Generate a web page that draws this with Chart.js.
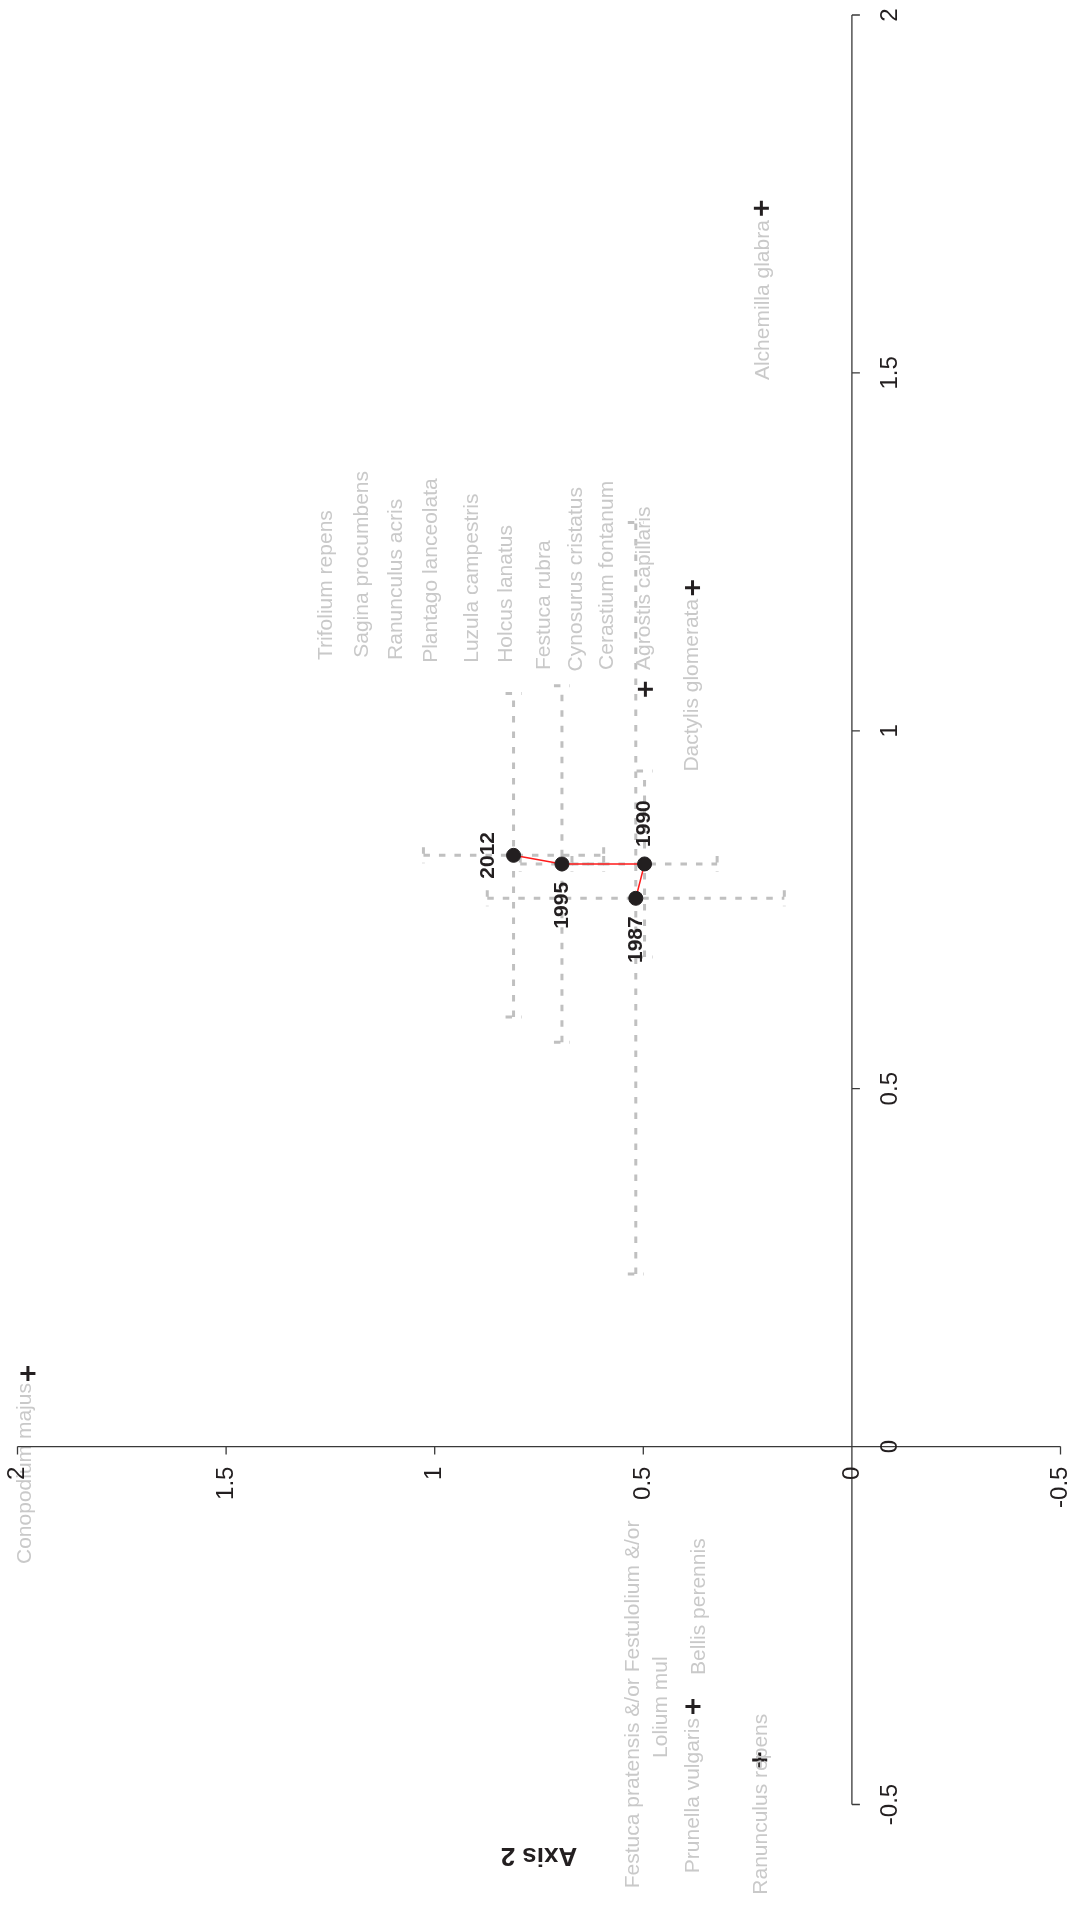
<!DOCTYPE html>
<html>
<head>
<meta charset="utf-8">
<title>Ordination: Axis 1 / Axis 2</title>
<script src="https://cdn.jsdelivr.net/npm/chart.js@4.4.1/dist/chart.umd.min.js"></script>
<style>
  html, body { margin: 0; padding: 0; background: #fff; }
  #wrap { width: 1072px; height: 1910px; }
</style>
</head>
<body>
<div id="wrap"><canvas id="ordChart" width="1072" height="1910"></canvas></div>
<script>
// Survey centroids (Axis 2 runs right-to-left, Axis 1 bottom-to-top)
const years = ['1987', '1990', '1995', '2012'];
const yearAxis2 = [0.518, 0.497, 0.695, 0.811];
const yearAxis1 = [0.766, 0.814, 0.814, 0.826];
const yearErr2 = [0.356, 0.174, 0.100, 0.216];
const yearErr1 = [0.525, 0.130, 0.249, 0.226];

// species that got a "+" marker
const markedSpecies = ['Alchemilla glabra', 'Dactylis glomerata', 'Agrostis capillaris',
    'Conopodium majus', 'Prunella vulgaris', 'Ranunculus repens'];
const markAxis2 = [0.217, 0.382, 0.495, 1.975, 0.381, 0.221];
const markAxis1 = [1.730, 1.200, 1.058, 0.102, -0.363, -0.438];

// species labels, anchored at the start of the text
const speciesNames = ['Trifolium repens', 'Sagina procumbens', 'Ranunculus acris',
    'Plantago lanceolata', 'Luzula campestris', 'Holcus lanatus', 'Festuca rubra',
    'Cynosurus cristatus', 'Cerastium fontanum', 'Agrostis capillaris',
    'Dactylis glomerata', 'Alchemilla glabra', 'Conopodium majus',
    'Festuca pratensis &/or Festulolium &/or', 'Lolium mul', 'Prunella vulgaris',
    'Bellis perennis', 'Ranunculus repens'];
const labelAxis2 = [1.260, 1.173, 1.092, 1.008, 0.909, 0.828, 0.737, 0.661, 0.586, 0.497,
    0.382, 0.213, 1.981, 0.525, 0.457, 0.381, 0.365, 0.217];
const labelAxis1 = [1.099, 1.102, 1.099, 1.095, 1.095, 1.095, 1.085, 1.083, 1.085, 1.085,
    0.943, 1.490, -0.164, -0.617, -0.435, -0.596, -0.319, -0.626];

const tickValues = [-0.5, 0, 0.5, 1, 1.5, 2];
const tickLabels = ['-0.5', '0', '0.5', '1', '1.5', '2'];
const axisTitle = 'Axis 2';

const FONT = '"Liberation Sans", Arial, Helvetica, sans-serif';
const INK = '#231f20';
const UP = -Math.PI / 2;

function rotText(ctx, txt, x, y, angle, align, baseline) {
    ctx.save();
    ctx.translate(x, y);
    ctx.rotate(angle);
    ctx.textAlign = align;
    ctx.textBaseline = baseline;
    ctx.fillText(txt, 0, 0);
    ctx.restore();
}

// dashed error bars with small caps, drawn under the points
const errorBars = {
    id: 'errorBars',
    beforeDatasetsDraw(chart) {
        const { ctx, scales: { x, y } } = chart;
        const cap = 8;
        ctx.save();
        ctx.strokeStyle = '#c0c0c0';
        ctx.lineWidth = 3;
        ctx.setLineDash([6.5, 9]);
        years.forEach((yr, i) => {
            const px = x.getPixelForValue(yearAxis2[i]);
            const py = y.getPixelForValue(yearAxis1[i]);
            const yTop = y.getPixelForValue(yearAxis1[i] + yearErr1[i]);
            const yBot = y.getPixelForValue(yearAxis1[i] - yearErr1[i]);
            const xL = x.getPixelForValue(yearAxis2[i] + yearErr2[i]);
            const xR = x.getPixelForValue(yearAxis2[i] - yearErr2[i]);
            ctx.beginPath();
            ctx.moveTo(px, yBot); ctx.lineTo(px, yTop);
            ctx.moveTo(px - cap, yTop); ctx.lineTo(px + cap, yTop);
            ctx.moveTo(px - cap, yBot); ctx.lineTo(px + cap, yBot);
            ctx.moveTo(xL, py); ctx.lineTo(xR, py);
            ctx.moveTo(xL, py - cap); ctx.lineTo(xL, py + cap);
            ctx.moveTo(xR, py - cap); ctx.lineTo(xR, py + cap);
            ctx.stroke();
        });
        ctx.restore();
    }
};

// labels, axes through the origin and the axis title
const overlay = {
    id: 'overlay',
    afterDatasetsDraw(chart) {
        const { ctx, scales: { x, y } } = chart;

        // species names
        ctx.save();
        ctx.fillStyle = '#c9c9c9';
        ctx.font = '21px ' + FONT;
        speciesNames.forEach((name, i) => {
            rotText(ctx, name, x.getPixelForValue(labelAxis2[i]), y.getPixelForValue(labelAxis1[i]),
                UP, 'left', 'middle');
        });
        ctx.restore();

        // year labels
        ctx.save();
        ctx.fillStyle = INK;
        ctx.font = 'bold 21px ' + FONT;
        years.forEach((yr, i) => {
            const px = x.getPixelForValue(yearAxis2[i]);
            const py = y.getPixelForValue(yearAxis1[i]);
            if (yr === '2012') rotText(ctx, yr, px - 25, py, UP, 'center', 'middle');
            else if (yr === '1990') rotText(ctx, yr, px, py - 17, UP, 'left', 'middle');
            else rotText(ctx, yr, px, py + 18, UP, 'right', 'middle');
        });
        ctx.restore();

        // axes crossing at (0, 0)
        const x0 = x.getPixelForValue(0);
        const y0 = y.getPixelForValue(0);
        const lo = tickValues[0], hi = tickValues[tickValues.length - 1];
        ctx.save();
        ctx.strokeStyle = '#3a3a3a';
        ctx.lineWidth = 1.3;
        ctx.beginPath();
        ctx.moveTo(x.getPixelForValue(hi), y0);
        ctx.lineTo(x.getPixelForValue(lo), y0);
        ctx.moveTo(x0, y.getPixelForValue(hi));
        ctx.lineTo(x0, y.getPixelForValue(lo));
        tickValues.forEach(v => {
            const tx = x.getPixelForValue(v);
            ctx.moveTo(tx, y0); ctx.lineTo(tx, y0 + 8);
            const ty = y.getPixelForValue(v);
            ctx.moveTo(x0, ty); ctx.lineTo(x0 + 8, ty);
        });
        ctx.stroke();

        ctx.fillStyle = INK;
        ctx.font = '24px ' + FONT;
        tickValues.forEach((v, i) => {
            rotText(ctx, tickLabels[i], x.getPixelForValue(v), y0 + 20, UP, 'right', 'middle');
            rotText(ctx, tickLabels[i], x0 + 38, y.getPixelForValue(v), UP, 'center', 'middle');
        });

        ctx.font = 'bold 26px ' + FONT;
        rotText(ctx, axisTitle, x.getPixelForValue((lo + hi) / 2), y.getPixelForValue(lo) + 51,
            Math.PI, 'center', 'middle');
        ctx.restore();
    }
};

const pts = (xs, ys) => xs.map((v, i) => ({ x: v, y: ys[i] }));

new Chart(document.getElementById('ordChart'), {
    type: 'scatter',
    data: {
        datasets: [
            {
                label: 'Survey year',
                data: pts(yearAxis2, yearAxis1),
                backgroundColor: INK,
                borderColor: INK,
                pointRadius: 7,
                order: 1,
                clip: false
            },
            {
                label: 'Species',
                data: pts(markAxis2, markAxis1),
                pointStyle: 'cross',
                pointRadius: 7.5,
                borderWidth: 3,
                borderColor: INK,
                order: 2,
                clip: false
            },
            {
                type: 'line',
                label: 'Trajectory',
                data: pts(yearAxis2, yearAxis1),
                borderColor: '#ff1a1a',
                borderWidth: 1.5,
                pointRadius: 0,
                tension: 0,
                fill: false,
                order: 3,
                clip: false
            }
        ]
    },
    options: {
        responsive: false,
        devicePixelRatio: 1,
        animation: false,
        layout: { padding: { left: 17.5, right: 11.5, top: 15, bottom: 105.5 } },
        plugins: { legend: { display: false }, tooltip: { enabled: false } },
        scales: {
            x: { type: 'linear', reverse: true, min: -0.5, max: 2, display: false },
            y: { type: 'linear', min: -0.5, max: 2, display: false }
        }
    },
    plugins: [errorBars, overlay]
});
</script>
</body>
</html>
